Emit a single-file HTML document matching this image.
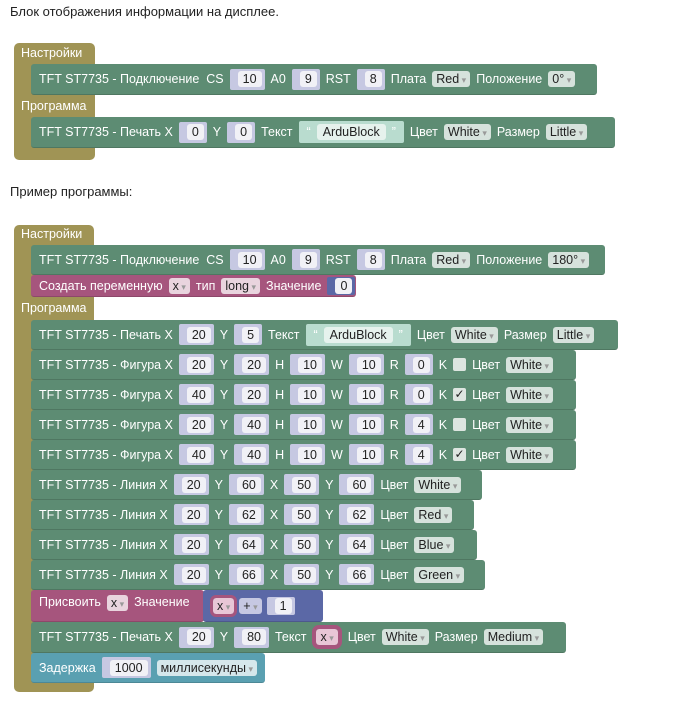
<!DOCTYPE html>
<html><head><meta charset="utf-8"><style>
body{margin:0;width:700px;height:704px;background:#fff;font-family:"Liberation Sans",sans-serif;position:relative;overflow:hidden}
.t{position:absolute;font-size:13px;color:#222}
.c{position:absolute;background:#a09455;border-radius:5px}
.lab{position:absolute;color:#fff;font-size:12.5px}
.r{position:absolute;display:flex;align-items:center;gap:6px;color:#fff;font-size:12.5px;white-space:nowrap;padding-left:8px;box-sizing:border-box;border-radius:3px;border-bottom:1px solid rgba(0,0,0,.15)}
.g{background:#5d8c73}.p{background:#a6557d}.b{background:#5b68a6}.tl{background:#5aa0b1}
.i{display:inline-flex;align-items:center;background:#c6c8e2;height:21px;padding:0 3px 0 8px;border-radius:2px}
.i span{background:#f1f1f6;color:#222;border-radius:3px;padding:1px 5px;font-size:12.5px}
.d{background:rgba(255,255,255,.75);color:#222;border-radius:3px;padding:1px 4px;font-size:12.5px}
.d:after{content:" ▾";color:#999;font-size:9px}
.k{display:inline-block;width:13px;height:13px;background:#dde5e0;border-radius:2px;color:#222;font-size:12px;line-height:13px;text-align:center}
.tx{display:inline-flex;align-items:center;background:#b9dccf;height:22px;padding:0 8px;gap:6px;color:#fff;border-radius:2px}
.tx span{background:#e6f2ed;color:#222;border-radius:3px;padding:1px 6px}
</style></head><body>
<div class="t" style="left:10px;top:4px">Блок отображения информации на дисплее.</div>
<div class="c" style="left:14px;top:43px;width:81px;height:117px"></div>
<div class="lab" style="left:21px;top:46px">Настройки</div>
<div class="r g" style="left:31px;top:64px;width:566px;height:31px">TFT ST7735 - Подключение&nbsp; CS <span class="i"><span>10</span></span> A0 <span class="i"><span>9</span></span> RST <span class="i"><span>8</span></span> Плата <span class="d">Red</span> Положение <span class="d">0°</span></div>
<div class="lab" style="left:21px;top:99px">Программа</div>
<div class="r g" style="left:31px;top:117px;width:584px;height:31px">TFT ST7735 - Печать X <span class="i"><span>0</span></span> Y <span class="i"><span>0</span></span> Текст <span class="tx">“<span>ArduBlock</span>”</span> Цвет <span class="d">White</span> Размер <span class="d">Little</span></div>

<div class="t" style="left:10px;top:184px">Пример программы:</div>
<div class="c" style="left:14px;top:225px;width:80px;height:467px"></div>
<div class="lab" style="left:21px;top:227px">Настройки</div>
<div class="r g" style="left:31px;top:245px;width:574px;height:30px">TFT ST7735 - Подключение&nbsp; CS <span class="i"><span>10</span></span> A0 <span class="i"><span>9</span></span> RST <span class="i"><span>8</span></span> Плата <span class="d">Red</span> Положение <span class="d">180°</span></div>
<div class="r p" style="left:31px;top:275px;width:325px;height:22px">Создать переменную <span class="d">x</span> тип <span class="d">long</span> Значение <span class="i" style="background:#5b68a6;height:18px"><span>0</span></span></div>
<div class="lab" style="left:21px;top:301px">Программа</div>
<div class="r g" style="left:31px;top:320px;width:587px;height:30px">TFT ST7735 - Печать X <span class="i"><span>20</span></span> Y <span class="i"><span>5</span></span> Текст <span class="tx">“<span>ArduBlock</span>”</span> Цвет <span class="d">White</span> Размер <span class="d">Little</span></div>
<div class="r g" style="left:31px;top:350px;width:545px;height:30px">TFT ST7735 - Фигура X <span class="i"><span>20</span></span> Y <span class="i"><span>20</span></span> H <span class="i"><span>10</span></span> W <span class="i"><span>10</span></span> R <span class="i"><span>0</span></span> K <span class="k"></span> Цвет <span class="d">White</span></div>
<div class="r g" style="left:31px;top:380px;width:545px;height:30px">TFT ST7735 - Фигура X <span class="i"><span>40</span></span> Y <span class="i"><span>20</span></span> H <span class="i"><span>10</span></span> W <span class="i"><span>10</span></span> R <span class="i"><span>0</span></span> K <span class="k">✓</span> Цвет <span class="d">White</span></div>
<div class="r g" style="left:31px;top:410px;width:545px;height:30px">TFT ST7735 - Фигура X <span class="i"><span>20</span></span> Y <span class="i"><span>40</span></span> H <span class="i"><span>10</span></span> W <span class="i"><span>10</span></span> R <span class="i"><span>4</span></span> K <span class="k"></span> Цвет <span class="d">White</span></div>
<div class="r g" style="left:31px;top:440px;width:545px;height:30px">TFT ST7735 - Фигура X <span class="i"><span>40</span></span> Y <span class="i"><span>40</span></span> H <span class="i"><span>10</span></span> W <span class="i"><span>10</span></span> R <span class="i"><span>4</span></span> K <span class="k">✓</span> Цвет <span class="d">White</span></div>
<div class="r g" style="left:31px;top:470px;width:451px;height:30px">TFT ST7735 - Линия X <span class="i"><span>20</span></span> Y <span class="i"><span>60</span></span> X <span class="i"><span>50</span></span> Y <span class="i"><span>60</span></span> Цвет <span class="d">White</span></div>
<div class="r g" style="left:31px;top:500px;width:443px;height:30px">TFT ST7735 - Линия X <span class="i"><span>20</span></span> Y <span class="i"><span>62</span></span> X <span class="i"><span>50</span></span> Y <span class="i"><span>62</span></span> Цвет <span class="d">Red</span></div>
<div class="r g" style="left:31px;top:530px;width:446px;height:30px">TFT ST7735 - Линия X <span class="i"><span>20</span></span> Y <span class="i"><span>64</span></span> X <span class="i"><span>50</span></span> Y <span class="i"><span>64</span></span> Цвет <span class="d">Blue</span></div>
<div class="r g" style="left:31px;top:560px;width:454px;height:30px">TFT ST7735 - Линия X <span class="i"><span>20</span></span> Y <span class="i"><span>66</span></span> X <span class="i"><span>50</span></span> Y <span class="i"><span>66</span></span> Цвет <span class="d">Green</span></div>
<div class="r p" style="left:31px;top:590px;width:173px;height:32px;align-items:flex-start;padding-top:5px">Присвоить <span class="d">x</span> Значение</div>
<div class="r b" style="left:203px;top:590px;width:120px;height:32px;gap:5px;padding-left:10px"><span class="d" style="background:#e8c6d6;outline:3px solid #a6557d">x</span> <span class="d" style="background:#c6c8e2">+</span> <span class="i" style="height:18px"><span>1</span></span></div>
<div class="r g" style="left:31px;top:622px;width:535px;height:31px">TFT ST7735 - Печать X <span class="i"><span>20</span></span> Y <span class="i"><span>80</span></span> Текст <span class="d" style="background:#e8c6d6;outline:4px solid #a6557d;margin:0 4px">x</span> Цвет <span class="d">White</span> Размер <span class="d">Medium</span></div>
<div class="r tl" style="left:31px;top:653px;width:234px;height:30px">Задержка <span class="i"><span>1000</span></span> <span class="d">миллисекунды</span></div>
</body></html>
